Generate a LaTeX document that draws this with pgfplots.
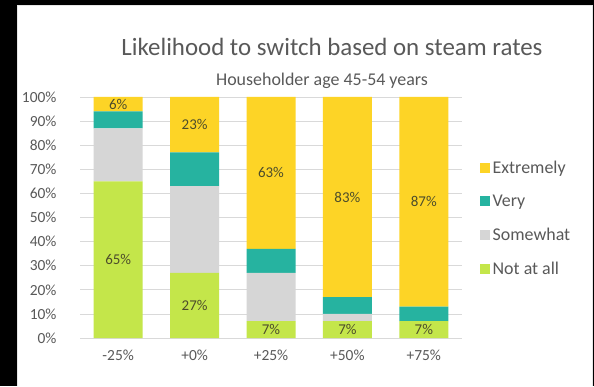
\documentclass[border=0pt]{standalone}
\usepackage{pgfplots}
\pgfplotsset{compat=1.18}
\usepackage{pgfplotstable}
\usepackage{fontspec}
\setmainfont{Carlito}
\definecolor{cExt}{HTML}{FDD426}
\definecolor{cVery}{HTML}{26B3A0}
\definecolor{cSome}{HTML}{D6D6D6}
\definecolor{cNot}{HTML}{C4E64A}
\definecolor{txt}{HTML}{595959}
\definecolor{lbl}{HTML}{4D4D2B}
\definecolor{grd}{HTML}{D9D9D9}
\definecolor{edge}{HTML}{E6E6E6}

\pgfplotstableread{
x notatall somewhat very extremely
0 65 22 7 6
1 27 36 14 23
2 7 20 10 63
3 7 3 7 83
4 7 0 6 87
}\data

\pgfplotstableread{
x y v
0 97 6
0 32.5 65
1 88.5 23
1 13.5 27
2 68.5 63
2 3.5 7
3 58.5 83
3 3.5 7
4 56.5 87
4 3.5 7
}\labels

\pgfplotsset{
  sq legend/.style={legend image code/.code={\fill[##1] (0bp,-5bp) rectangle (10bp,5bp);}},
  common/.style={
    at={(80bp,48bp)}, anchor=south west,
    scale only axis, width=382bp, height=241bp,
    xmin=-0.5, xmax=4.5, ymin=0, ymax=100,
  }
}

\begin{document}
\begin{tikzpicture}[x=1bp,y=1bp]
\path[use as bounding box] (0,0) rectangle (594,386);
\fill[black] (0,0) rectangle (594,386);
\fill[white] (17,0) rectangle (593,381);
\draw[edge, line width=1bp] (17.5,0) -- (17.5,380.5) -- (592.5,380.5) -- (592.5,0);

\node[text=txt, font=\fontsize{25}{28}\selectfont] at (332,339) {Likelihood to switch based on steam rates};
\node[text=txt, font=\fontsize{18}{21}\selectfont] at (322,305) {Householder age 45-54 years};

\begin{axis}[common,
  ybar stacked, bar width=49bp,
  axis x line*=bottom, axis y line*=left,
  x axis line style={grd, line width=1bp},
  y axis line style={draw=none},
  ymajorgrids, grid style={grd, line width=0.8bp},
  ytick={0,10,...,100},
  yticklabel={\pgfmathprintnumber{\tick}\%},
  /pgf/number format/assume math mode=true,
  xtick={0,1,2,3,4},
  xticklabels={-25\%,+0\%,+25\%,+50\%,+75\%},
  major tick length=0pt,
  tick label style={text=txt, font=\fontsize{15.5}{18}\selectfont},
  yticklabel style={anchor=east, xshift=-20bp},
  xticklabel style={yshift=-8bp},
  reverse legend,
  legend style={at={(1.047,0.497)}, anchor=west, draw=none, fill=none,
    font=\fontsize{18}{21}\selectfont, text=txt,
    row sep=18bp, inner sep=0pt,
    nodes={inner xsep=2.5bp, inner ysep=1bp}},
  legend cell align=left,
]
\addplot[fill=cNot, draw=none, sq legend] table[x=x, y=notatall] {\data};
\addplot[fill=cSome, draw=none, sq legend] table[x=x, y=somewhat] {\data};
\addplot[fill=cVery, draw=none, sq legend] table[x=x, y=very] {\data};
\addplot[fill=cExt, draw=none, sq legend] table[x=x, y=extremely] {\data};
\legend{Not at all, Somewhat, Very, Extremely}
\end{axis}

\begin{axis}[common, hide axis, /pgf/number format/assume math mode=true]
\addplot[draw=none, mark=none, nodes near coords={\pgfmathprintnumber{\pgfplotspointmeta}\%},
  nodes near coords align=center, point meta=explicit,
  every node near coord/.append style={text=lbl, font=\fontsize{15}{17}\selectfont, anchor=center}]
  table[x=x, y=y, meta=v] {\labels};
\end{axis}
\end{tikzpicture}
\end{document}
